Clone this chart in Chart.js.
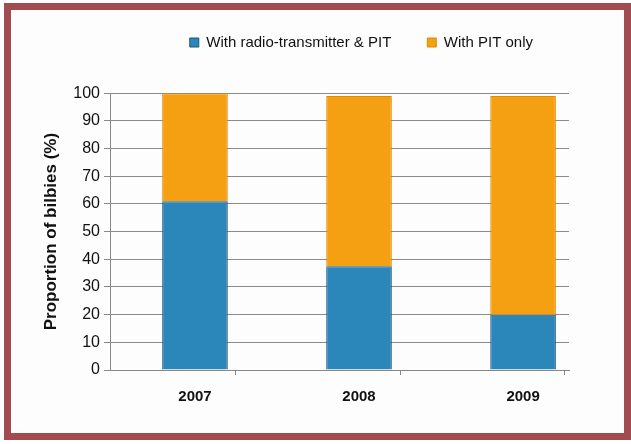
<!DOCTYPE html>
<html>
<head>
<meta charset="utf-8">
<script src="https://cdn.jsdelivr.net/npm/chart.js@4"></script>
<style>
  html, body { margin: 0; padding: 0; background: #ffffff; }
  #frame {
    position: absolute;
    left: 4px;
    top: 3px;
    width: 613px;
    height: 423px;
    border: 7px solid #a04c50;
    background: #fdfdfd;
  }
  canvas { display: block; }
</style>
</head>
<body>
<div id="frame">
  <canvas id="bilby-chart" width="613" height="423"></canvas>
</div>
<script>
const years = ["2007", "2008", "2009"];
const withRadio = [61, 37.5, 20];
const pitOnly = [39, 61.5, 79];
const yTicks = [0, 10, 20, 30, 40, 50, 60, 70, 80, 90, 100];
// small marks between the year groups on the x axis
const xTicks = [0, 0.5, 1, 1.5, 2];

const ctx = document.getElementById("bilby-chart");

Chart.defaults.font.family = "'Liberation Sans', Arial, sans-serif";
Chart.defaults.color = "#222222";

new Chart(ctx, {
  type: "bar",
  data: {
    datasets: [
      {
        label: "With radio-transmitter & PIT",
        data: withRadio.map((v, i) => ({ x: i, y: v })),
        backgroundColor: "#2b86b9",
        borderColor: "#1d5677",
        borderWidth: 1,
        barPercentage: 0.8,
        categoryPercentage: 1,
      },
      {
        label: "With PIT only",
        data: pitOnly.map((v, i) => ({ x: i, y: v })),
        backgroundColor: "#f4a012",
        borderColor: "#e08a00",
        borderWidth: 1,
        barPercentage: 0.8,
        categoryPercentage: 1,
      },
    ],
  },
  options: {
    responsive: false,
    animation: false,
    layout: {
      padding: { left: 0, right: 55, top: -11, bottom: 0 },
    },
    plugins: {
      legend: {
        position: "top",
        align: "end",
        labels: {
          boxWidth: 9,
          boxHeight: 9,
          padding: 36,
          color: "#111111",
          font: { size: 15 },
        },
      },
      // empty spacer between legend and plot
      subtitle: {
        display: true,
        text: "",
        weight: 500,
        font: { size: 1 },
        padding: { top: 32, bottom: 0 },
      },
      tooltip: { enabled: false },
    },
    scales: {
      x: {
        type: "linear",
        stacked: true,
        offset: false,
        min: -0.518,
        max: 2.28,
        afterBuildTicks: (s) => {
          s.ticks = xTicks.map((v) => ({ value: v }));
        },
        afterFit: (s) => {
          s.height = 63;
        },
        grid: {
          drawOnChartArea: false,
          drawTicks: true,
          tickLength: 5,
          color: (c) => (c.tick && Number.isInteger(c.tick.value) ? "rgba(0,0,0,0)" : "#888888"),
        },
        border: { display: true, color: "#888888" },
        ticks: {
          padding: 13,
          autoSkip: false,
          maxRotation: 0,
          color: "#111111",
          font: { size: 15, weight: "bold" },
          callback: (v) => (Number.isInteger(v) ? years[v] : ""),
        },
      },
      y: {
        stacked: true,
        min: 0,
        max: 100,
        afterBuildTicks: (s) => {
          s.ticks = yTicks.map((v) => ({ value: v }));
        },
        afterFit: (s) => {
          s.width = 99;
        },
        grid: { color: "#8a8a8a", lineWidth: 1, drawTicks: true, tickLength: 6 },
        border: { display: true, color: "#888888" },
        ticks: {
          padding: 4,
          color: "#111111",
          font: { size: 16 },
        },
        title: {
          display: true,
          text: "Proportion of bilbies (%)",
          color: "#111111",
          font: { size: 17, weight: "bold" },
          padding: { top: 30, bottom: 0 },
        },
      },
    },
  },
});
</script>
</body>
</html>
